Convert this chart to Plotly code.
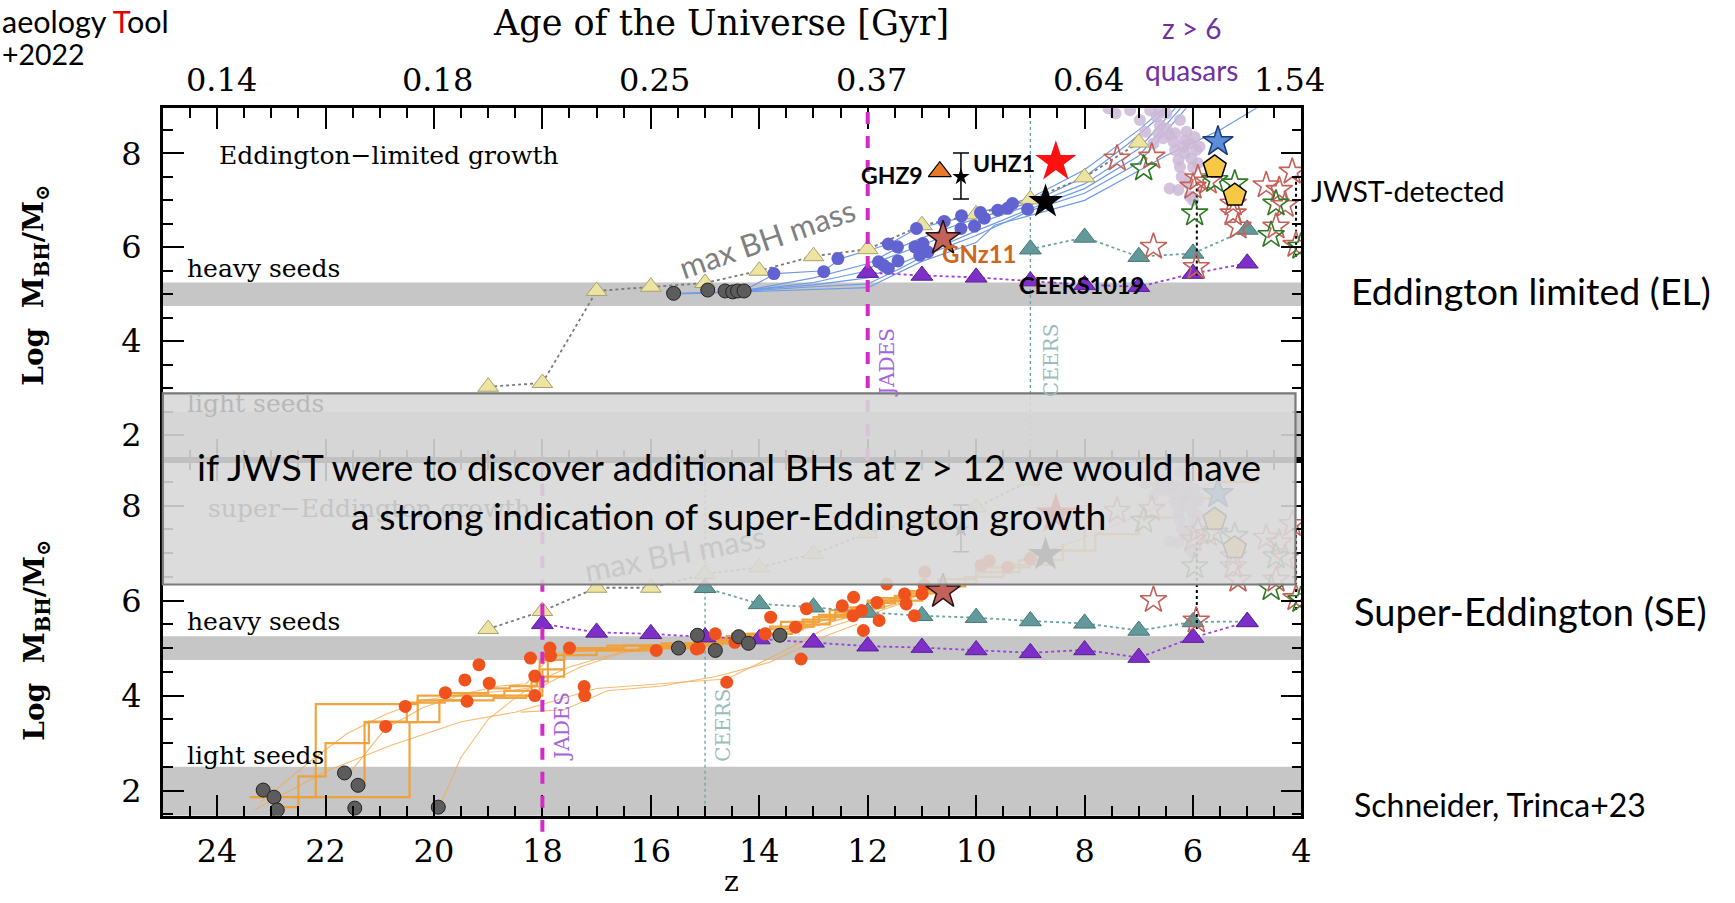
import plotly.graph_objects as go

FIG_W, FIG_H = 1735, 903
SERIF = "DejaVu Serif"
SANS = "Lato"

# ---------------- axes ----------------
Z_RANGE = [25, 4]
LOGM_RANGE = [1.47, 8.96]
AGE_TICK_Z = [24, 20, 16, 12, 8, 4]
AGE_TICK_TEXT = ["0.14", "0.18", "0.25", "0.37", "0.64", "1.54"]

HEAVY_SEEDS = [4.75, 5.25]
LIGHT_SEEDS = [1.47, 2.5]

# survey detection redshifts per panel
EL_JADES_Z, EL_CEERS_Z = 12, 9
SE_JADES_Z, SE_CEERS_Z = 18, 15

# ---------------- Eddington-limited model (top) ----------------
el_max_z = [19, 18, 17, 16, 15, 14, 13, 12, 11, 10, 9, 8, 7]
el_max_m = [3.03, 3.11, 5.07, 5.16, 5.24, 5.50, 5.81, 5.96, 6.47, 6.70, 7.02, 7.49, 8.23]
el_ceers_z = [9, 8, 7, 6, 5]
el_ceers_m = [5.96, 6.21, 5.80, 5.87, 6.38]
el_jades_z = [12, 11, 10, 9, 8, 7, 6, 5]
el_jades_m = [5.46, 5.40, 5.36, 5.28, 5.20, 5.16, 5.44, 5.66]
el_seed_z = [15.58, 14.95, 14.63, 14.49, 14.40, 14.28]
el_seed_m = [5.02, 5.09, 5.07, 5.05, 5.07, 5.07]
el_bh_z = [13.73, 12.81, 12.55, 11.62, 11.45, 11.10, 11.80, 11.71, 11.62, 11.44, 11.13, 10.98,
           10.89, 11.04, 10.28, 10.03, 9.85, 9.60, 9.42, 9.05, 10.59, 10.27, 9.92, 9.33]
el_bh_m = [5.44, 5.48, 5.76, 6.07, 6.01, 6.40, 5.69, 5.62, 5.55, 5.71, 6.01, 6.08,
           5.90, 5.83, 6.40, 6.45, 6.62, 6.79, 6.83, 6.81, 6.55, 6.67, 6.74, 6.93]
el_tracks = [
    ([14.3, 13.7, 12.8, 12.5, 11.6, 11.1, 10.3, 9.6, 9.0, 8.0, 7.0, 6.5],
     [5.07, 5.44, 5.50, 5.76, 6.07, 6.40, 6.62, 6.85, 7.05, 7.65, 8.50, 9.00]),
    ([14.3, 13.0, 12.0, 11.5, 11.0, 10.3, 9.6, 9.0, 8.0, 7.2, 6.4],
     [5.07, 5.35, 5.65, 5.95, 6.20, 6.50, 6.75, 6.95, 7.50, 8.20, 9.00]),
    ([14.4, 13.0, 12.0, 11.8, 11.0, 10.0, 9.0, 8.0, 7.0, 6.3],
     [5.06, 5.25, 5.50, 5.70, 6.05, 6.50, 6.90, 7.35, 8.10, 9.00]),
    ([14.5, 13.0, 12.0, 11.6, 11.0, 10.0, 9.0, 8.0, 7.0, 6.2],
     [5.06, 5.20, 5.35, 5.55, 5.85, 6.35, 6.82, 7.25, 7.95, 9.00]),
    ([15.6, 14.5, 13.0, 12.0, 11.4, 10.9, 10.0, 9.0, 8.0, 7.0, 6.1],
     [5.02, 5.05, 5.16, 5.22, 5.55, 5.85, 6.25, 6.78, 7.15, 7.80, 9.00]),
    ([15.6, 14.5, 13.0, 12.0, 11.0, 10.0, 9.66, 8.0, 7.05, 6.5, 5.5, 4.78],
     [5.00, 5.04, 5.10, 5.14, 5.70, 6.10, 6.47, 7.00, 7.60, 7.95, 8.50, 9.00]),
]

# ---------------- super-Eddington model (bottom) ----------------
se_max_z = [19, 18, 17, 16, 15, 14, 13, 12, 11, 10, 9]
se_max_m = [5.40, 5.78, 6.27, 6.27, 6.56, 6.70, 6.98, 7.42, 7.70, 7.96, 8.53]
se_ceers_z = [15, 14, 13, 12, 11, 10, 9, 8, 7, 6, 5]
se_ceers_m = [6.27, 5.93, 5.86, 5.75, 5.68, 5.64, 5.57, 5.52, 5.37, 5.55, 5.56]
se_jades_z = [18, 17, 16, 15, 14, 13, 12, 11, 10, 9, 8, 7, 6, 5]
se_jades_m = [5.51, 5.33, 5.30, 5.23, 5.19, 5.12, 5.04, 5.01, 4.96, 4.90, 4.96, 4.80, 5.22, 5.55]
se_light_seed_z = [23.15, 22.95, 22.89, 21.65, 21.40, 21.46, 19.92]
se_light_seed_m = [2.01, 1.86, 1.59, 2.37, 2.11, 1.63, 1.65]
se_heavy_seed_z = [15.49, 15.14, 14.81, 14.38, 14.20, 13.62]
se_heavy_seed_m = [5.00, 5.27, 4.95, 5.24, 5.10, 5.27]
se_bh_z = [19.17, 19.43, 18.98, 19.79, 19.39, 20.53, 20.89, 18.22, 18.14, 18.14, 17.86, 17.85,
           17.50, 17.23, 17.22, 15.90, 15.16, 15.11, 14.81, 14.45, 13.79, 13.89, 13.33, 13.23,
           13.13, 12.47, 12.26, 12.11, 12.27, 12.08, 11.83, 11.79, 11.32, 11.29, 11.14, 11.00,
           10.96, 11.65, 14.60, 10.95, 9.91, 9.76, 9.42, 9.00]
se_bh_m = [4.65, 4.33, 4.26, 4.06, 3.88, 3.77, 3.35, 4.79, 4.41, 4.00, 5.00, 4.84,
           5.00, 4.19, 4.00, 4.95, 4.98, 5.00, 5.30, 5.12, 5.65, 5.30, 5.44, 4.77,
           5.83, 5.89, 6.07, 5.79, 5.68, 5.37, 5.96, 5.58, 6.14, 5.93, 5.68, 6.14,
           6.32, 6.35, 4.28, 6.60, 6.74, 6.84, 6.70, 6.88]
se_tracks_thick = [
    ([23.4, 20.45, 20.45, 19.9, 18.9, 18.3, 18.05, 17.6, 16.2, 15.3, 14.7, 14.0, 13.6, 12.9,
      12.3, 11.8, 11.2, 10.6, 10.0, 9.2, 8.4],
     [1.86, 1.86, 3.44, 3.90, 3.95, 4.00, 4.75, 4.95, 5.00, 5.05, 5.20, 5.30, 5.55, 5.70,
      5.85, 6.05, 6.15, 6.35, 6.60, 6.85, 7.20]),
    ([22.61, 22.18, 20.78, 20.3, 18.12, 18.0, 17.6, 16.5, 15.5, 14.6, 13.9, 13.2, 12.6, 12.0,
      11.5, 10.9, 10.2, 9.5, 8.6, 7.8, 7.0, 6.2, 5.5, 4.8],
     [1.86, 3.82, 3.82, 4.00, 4.00, 4.55, 5.00, 5.05, 5.10, 5.25, 5.40, 5.60, 5.75, 5.95,
      6.10, 6.30, 6.50, 6.75, 7.05, 7.40, 7.75, 8.15, 8.50, 8.85]),
    ([21.45, 21.28, 20.5, 20.3, 19.4, 18.7, 18.2, 17.9, 17.0, 16.0, 15.2, 14.5, 13.8, 13.0,
      12.4, 11.7, 11.0],
     [2.10, 3.44, 3.44, 3.90, 4.00, 4.10, 4.30, 4.85, 4.95, 5.05, 5.15, 5.30, 5.45, 5.65,
      5.85, 6.00, 6.20]),
    ([23.0, 22.5, 22.0, 21.2, 20.5, 19.8, 19.0, 18.6, 18.1, 17.6, 16.8, 15.8, 15.0, 14.2,
      13.4, 12.7, 12.0, 11.4, 10.7, 10.0, 9.0, 8.0],
     [1.65, 2.30, 3.00, 3.45, 3.85, 4.05, 4.15, 4.20, 4.40, 5.00, 5.05, 5.10, 5.20, 5.30,
      5.50, 5.80, 6.00, 6.20, 6.45, 6.70, 7.05, 7.50]),
]
se_tracks_thin = [
    ([23.3, 22.0, 20.8, 19.5, 18.5, 17.0, 15.2, 14.6, 13.6, 12.8, 12.0, 11.2],
     [1.60, 2.40, 2.95, 3.45, 3.65, 4.15, 4.30, 4.35, 4.90, 5.40, 5.70, 6.00]),
    ([19.9, 19.5, 19.0, 18.5, 18.0, 17.5, 16.6, 15.5, 14.5, 13.6, 12.9, 12.2, 11.5],
     [1.65, 2.70, 3.50, 3.95, 4.35, 4.60, 4.90, 5.00, 5.10, 5.30, 5.55, 5.80, 6.05]),
    ([23.2, 22.3, 21.6, 20.9, 20.2, 19.3, 18.6, 18.0, 17.3, 16.4, 15.4, 14.4, 13.5, 12.5,
      11.6, 10.8, 9.8, 8.8, 7.8, 6.8, 5.8, 4.9],
     [1.75, 2.60, 3.20, 3.60, 3.90, 4.05, 4.10, 4.20, 4.60, 4.95, 5.05, 5.15, 5.35, 5.60,
      5.90, 6.20, 6.60, 7.00, 7.40, 7.90, 8.40, 8.90]),
    ([21.6, 20.9, 20.2, 19.4, 18.8, 18.3, 17.8, 17.0, 16.0, 15.0, 14.0, 13.0, 12.2, 11.4],
     [2.30, 3.30, 3.75, 4.05, 4.20, 4.25, 4.90, 4.95, 5.00, 5.10, 5.20, 5.45, 5.70, 5.95]),
    ([18.4, 17.6, 16.8, 15.8, 14.8, 13.8, 12.9, 12.2],
     [3.65, 3.70, 4.10, 4.20, 4.40, 4.70, 5.20, 5.50]),
]

# ---------------- observed black holes ----------------
ghz9_z, ghz9_m = [10.67], [7.61]
uhz1_z, uhz1_m, uhz1_up, uhz1_lo = [10.28], [7.50], [0.51], [0.47]
uhz1_star_z, uhz1_star_m = [8.53], [7.82]
ceers1019_z, ceers1019_m = [8.72], [6.97]
gnz11_z, gnz11_m = [10.61], [6.19]
blue_star_z, blue_star_m = [5.54], [8.25]
pentagon_z, pentagon_m = [5.60, 5.23], [7.71, 7.11]
red_open_z = [7.40, 6.76, 5.91, 6.00, 5.72, 4.65, 4.41, 4.17, 5.26, 5.17, 5.26, 4.47, 6.73, 5.94, 4.10, 4.30]
red_open_m = [7.89, 7.93, 7.47, 7.29, 7.40, 7.32, 7.22, 7.61, 6.72, 6.44, 6.93, 6.44, 6.01, 5.58, 6.05, 6.90]
green_open_z = [6.91, 5.97, 5.60, 5.23, 4.47, 4.56, 4.01]
green_open_m = [7.68, 6.72, 7.43, 7.36, 6.93, 6.26, 6.01]
quasar_z = [7.56, 7.43, 7.16, 6.98, 6.88, 6.79, 6.67, 6.61, 6.49, 6.43, 6.36, 6.33, 6.27, 6.24,
            6.24, 6.21, 6.15, 6.12, 6.09, 6.06, 6.03, 6.00, 5.97, 5.94, 6.43, 6.27, 6.06, 6.00,
            6.15, 6.49, 6.55, 6.73, 6.64, 6.33, 6.18, 5.88, 5.91, 6.61]
quasar_m = [8.96, 8.85, 8.92, 8.71, 8.46, 8.92, 8.78, 8.60, 8.85, 8.39, 8.25, 8.07, 7.86, 8.71,
            7.71, 7.50, 8.00, 8.46, 7.36, 8.21, 7.89, 7.71, 8.35, 8.07, 7.25, 7.22, 7.08, 7.00,
            8.28, 8.53, 8.32, 8.21, 8.43, 8.43, 8.14, 8.14, 7.79, 8.92]
quasar_range_z = [5.93, 4.10]
quasar_range_lo = [5.40, 5.80]
quasar_range_hi = [7.45, 7.55]

# ---------------- geometry (pixels of the page) ----------------
PLOT_L, PLOT_R = 163.8, 1309.0
TOP_T, MID, BOT_B = 108.3, 460.0, 815.7
BOX = (163.8, 393.3, 1303.0, 584.5)


def px(x):
    return x / FIG_W


def py(y):
    return 1 - y / FIG_H


fig = go.Figure()
PANELS = {1: ("x", "y"), 2: ("x2", "y2")}


def add(panel, **kw):
    xa, ya = PANELS[panel]
    fig.add_trace(go.Scatter(xaxis=xa, yaxis=ya, showlegend=False, hoverinfo="skip", **kw))


def dotted_series(panel, z, m, fill, edge, linecol, size=18):
    add(panel, x=z, y=m, mode="lines", line=dict(color=linecol, width=1.8, dash="dot"))
    add(panel, x=z, y=m, mode="markers",
        marker=dict(symbol="triangle-up", size=size, color=fill, line=dict(color=edge, width=1)))


def observations(panel):
    add(panel, x=quasar_z, y=quasar_m, mode="markers",
        marker=dict(size=12, color="rgba(205,185,215,0.85)", line=dict(width=0)))
    for zz, lo, hi in zip(quasar_range_z, quasar_range_lo, quasar_range_hi):
        add(panel, x=[zz, zz], y=[lo, hi], mode="lines",
            line=dict(color="black", width=2, dash="dot"))
    add(panel, x=red_open_z, y=red_open_m, mode="markers",
        marker=dict(symbol="star-open", size=20, color="#c6615a", line=dict(color="#c6615a", width=1.6)))
    add(panel, x=green_open_z, y=green_open_m, mode="markers",
        marker=dict(symbol="star-open", size=20, color="#2f7a24", line=dict(color="#2f7a24", width=1.6)))
    add(panel, x=blue_star_z, y=blue_star_m, mode="markers",
        marker=dict(symbol="star", size=23, color="#5b8ed8", line=dict(color="#1d3a78", width=1.5)))
    add(panel, x=pentagon_z, y=pentagon_m, mode="markers",
        marker=dict(symbol="pentagon", size=24, color="#f6c843", line=dict(color="black", width=1.5)))
    add(panel, x=uhz1_z, y=uhz1_m, mode="markers",
        error_y=dict(type="data", symmetric=False, array=uhz1_up, arrayminus=uhz1_lo,
                     color="black", thickness=1.5, width=8),
        marker=dict(symbol="star", size=13, color="black"))
    add(panel, x=ghz9_z, y=ghz9_m, mode="markers",
        marker=dict(symbol="triangle-up", size=20, color="#e8782a", line=dict(color="black", width=1.2)))
    add(panel, x=uhz1_star_z, y=uhz1_star_m, mode="markers",
        marker=dict(symbol="star", size=31, color="#ff1010", line=dict(width=0)))
    add(panel, x=ceers1019_z, y=ceers1019_m, mode="markers",
        marker=dict(symbol="star", size=26, color="black", line=dict(width=0)))
    add(panel, x=gnz11_z, y=gnz11_m, mode="markers",
        marker=dict(symbol="star", size=26, color="#c2625a", line=dict(color="#2a1010", width=1.5)))


# ---- top panel: Eddington-limited growth ----
for tz, tm in el_tracks:
    add(1, x=tz, y=tm, mode="lines", line=dict(color="#6f9be6", width=1.2))
dotted_series(1, el_max_z, el_max_m, "#ece4a0", "#a8a070", "#7a7a7a")
dotted_series(1, el_ceers_z, el_ceers_m, "#62999a", "#4a7878", "#6aa3a3", 19)
dotted_series(1, el_jades_z, el_jades_m, "#7e2fc8", "#5a1f9a", "#9b3fe0", 19)
add(1, x=el_bh_z, y=el_bh_m, mode="markers",
    marker=dict(size=13, color="#6262d0", line=dict(width=0)))
add(1, x=el_seed_z, y=el_seed_m, mode="markers",
    marker=dict(size=14, color="#5c5c5c", line=dict(color="#222222", width=1)))
observations(1)

# ---- bottom panel: super-Eddington growth ----
for tz, tm in se_tracks_thin:
    add(2, x=tz, y=tm, mode="lines", line=dict(color="rgba(245,170,80,0.8)", width=1.1))
for tz, tm in se_tracks_thick:
    add(2, x=tz, y=tm, mode="lines", line=dict(color="rgba(240,160,55,0.95)", width=2.2, shape="hv"))
dotted_series(2, se_max_z, se_max_m, "#ece4a0", "#a8a070", "#7a7a7a")
dotted_series(2, se_ceers_z, se_ceers_m, "#62999a", "#4a7878", "#6aa3a3", 19)
dotted_series(2, se_jades_z, se_jades_m, "#7e2fc8", "#5a1f9a", "#9b3fe0", 19)
add(2, x=se_bh_z, y=se_bh_m, mode="markers",
    marker=dict(size=13, color="#f0521e", line=dict(width=0)))
add(2, x=se_light_seed_z + se_heavy_seed_z, y=se_light_seed_m + se_heavy_seed_m, mode="markers",
    marker=dict(size=14, color="#5c5c5c", line=dict(color="#222222", width=1)))
observations(2)

# ---------------- shapes ----------------
shapes = []
for xa, ya in (("x", "y"), ("x2", "y2")):
    for lo, hi in (HEAVY_SEEDS, LIGHT_SEEDS):
        shapes.append(dict(type="rect", xref=f"{xa} domain", yref=ya, x0=0, x1=1, y0=lo, y1=hi,
                           fillcolor="#c6c6c6", line=dict(width=0), layer="below"))
# CEERS thresholds
shapes.append(dict(type="line", xref="x", yref="y domain", x0=EL_CEERS_Z, x1=EL_CEERS_Z, y0=0, y1=1,
                   line=dict(color="#6aa3a3", width=1.3, dash="dot"), layer="below"))
shapes.append(dict(type="line", xref="x2", yref="y2 domain", x0=SE_CEERS_Z, x1=SE_CEERS_Z, y0=0, y1=1,
                   line=dict(color="#6aa3a3", width=1.3, dash="dot"), layer="below"))
# JADES thresholds
shapes.append(dict(type="line", xref="x", yref="y domain", x0=EL_JADES_Z, x1=EL_JADES_Z, y0=0, y1=1,
                   line=dict(color="#d42ac8", width=4, dash="dash"), layer="above"))
shapes.append(dict(type="line", xref="x2", yref="y2 domain", x0=SE_JADES_Z, x1=SE_JADES_Z, y0=-0.045, y1=1,
                   line=dict(color="#d42ac8", width=4, dash="dash"), layer="above"))
# translucent call-out box
shapes.append(dict(type="rect", xref="paper", yref="paper", x0=px(BOX[0]), x1=px(BOX[2]),
                   y0=py(BOX[3]), y1=py(BOX[1]), fillcolor="#d8d8d8", opacity=0.89,
                   line=dict(width=0), layer="above"))
shapes.append(dict(type="rect", xref="paper", yref="paper", x0=px(BOX[0]), x1=px(BOX[2]),
                   y0=py(BOX[3]), y1=py(BOX[1]), fillcolor="rgba(0,0,0,0)",
                   line=dict(color="#7a7a7a", width=2.2), layer="above"))

# ---------------- annotations ----------------
ann = []


def note(text, x, y, size, family=SANS, color="black", xanchor="center", yanchor="middle",
         angle=0, xref="paper", yref="paper", **kw):
    ann.append(dict(text=text, x=x, y=y, xref=xref, yref=yref, showarrow=False,
                    font=dict(family=family, size=size, color=color),
                    xanchor=xanchor, yanchor=yanchor, textangle=angle, **kw))


note("Age of the Universe [Gyr]", px(724.8), py(23.2), 35, SERIF)
for zt, lab in zip(AGE_TICK_Z, AGE_TICK_TEXT):
    note(lab, zt, py(79.7), 32, SERIF, xref="x", xshift=(-12 if zt == 4 else 4))
note("z", px(735.8), py(881), 28, SERIF)
ytitle = "Log  M<sub>BH</sub>/M<sub>⊙</sub>"
note("<b>" + ytitle + "</b>", px(36), py(285), 28, SERIF, angle=-90)
note("<b>" + ytitle + "</b>", px(36), py(640), 28, SERIF, angle=-90)

note("Eddington−limited growth", px(218), py(155), 25, SERIF, xanchor="left")
note("heavy seeds", px(186), py(268.3), 25, SERIF, xanchor="left")
note("heavy seeds", px(186), py(621.7), 25, SERIF, xanchor="left")
note("light seeds", px(186), py(403.3), 25, SERIF, color="#b8b8b8", xanchor="left")
note("light seeds", px(186), py(755), 25, SERIF, xanchor="left")
note("super−Eddington growth", px(207), py(508.3), 25, SERIF, color="#c4c4c4", xanchor="left")

note("max BH mass", px(771.7), py(238), 31, SANS, color="#808080", angle=-19)
note("max BH mass", px(679), py(553), 31, SANS, color="#c8c8c8", angle=-11)

note("JADES", px(892), py(362), 20, SERIF, color="#a564dc", angle=-90)
note("JADES", px(565), py(726), 20, SERIF, color="#a564dc", angle=-90)
note("CEERS", px(1057), py(360), 20, SERIF, color="#9cbcbc", angle=-90)
note("CEERS", px(727), py(725), 20, SERIF, color="#9cbcbc", angle=-90)

note("<b>GHZ9</b>", 10.95, 7.54, 23, xref="x", yref="y", xanchor="right")
note("<b>UHZ1</b>", 10.09, 7.79, 23, xref="x", yref="y", xanchor="left")
note("<b>GNz11</b>", 10.67, 5.87, 24, color="#d0661c", xref="x", yref="y", xanchor="left")
note("<b>CEERS1019</b>", 9.24, 5.19, 23.5, xref="x", yref="y", xanchor="left")

note("z > 6", px(1198.3), py(27.7), 28, color="#7030a0")
note("quasars", px(1198.3), py(69.7), 28, color="#7030a0")
note("JWST-detected", px(1316.7), py(191.4), 28.5, xanchor="left")
note("Eddington limited (EL)", px(1356.6), py(290), 37.5, xanchor="left")
note("Super-Eddington (SE)", px(1360), py(610.8), 38, xanchor="left")
note("Schneider, Trinca+23", px(1360), py(804.4), 32, xanchor="left")
note("aeology <span style='color:#e00000'>T</span>ool", px(0), py(21), 30.5, xanchor="left")
note("+2022", px(0), py(54), 28.5, xanchor="left")

note("if JWST were to discover additional BHs at z > 12 we would have", px(733), py(466.7), 37.5)
note("a strong indication of super-Eddington growth", px(733), py(515), 37.5)

# ---------------- layout ----------------
minor_z = dict(ticks="inside", ticklen=10, tickwidth=1.5, tickcolor="black", tick0=0, dtick=0.5)
minor_m = dict(ticks="inside", ticklen=10, tickwidth=1.5, tickcolor="black", tick0=0, dtick=0.5)
xcommon = dict(range=Z_RANGE, showgrid=False, zeroline=False, showline=True, linecolor="black",
               linewidth=2.5, mirror="ticks", ticks="inside", ticklen=21, tickwidth=2,
               tickcolor="black", tickmode="linear", tick0=0, dtick=2, minor=minor_z,
               domain=[px(PLOT_L), px(PLOT_R)])
ycommon = dict(range=LOGM_RANGE, showgrid=False, zeroline=False, showline=True, linecolor="black",
               linewidth=2.5, mirror="ticks", ticks="inside", ticklen=21, tickwidth=2,
               tickcolor="black", tickmode="linear", tick0=0, dtick=2, minor=minor_m,
               tickfont=dict(family=SERIF, size=32, color="black"), ticklabelstandoff=12)

fig.update_layout(
    width=FIG_W, height=FIG_H, autosize=False,
    margin=dict(l=0, r=0, t=0, b=0),
    paper_bgcolor="white", plot_bgcolor="white",
    showlegend=False,
    xaxis=dict(anchor="y", showticklabels=False, **xcommon),
    yaxis=dict(anchor="x", domain=[py(MID), py(TOP_T)], **ycommon),
    xaxis2=dict(anchor="y2", showticklabels=True,
                tickfont=dict(family=SERIF, size=32, color="black"), ticklabelstandoff=5,
                **xcommon),
    yaxis2=dict(anchor="x2", domain=[py(BOT_B), py(MID)], **ycommon),
    shapes=shapes,
    annotations=ann,
)

fig.write_html("out.html")
